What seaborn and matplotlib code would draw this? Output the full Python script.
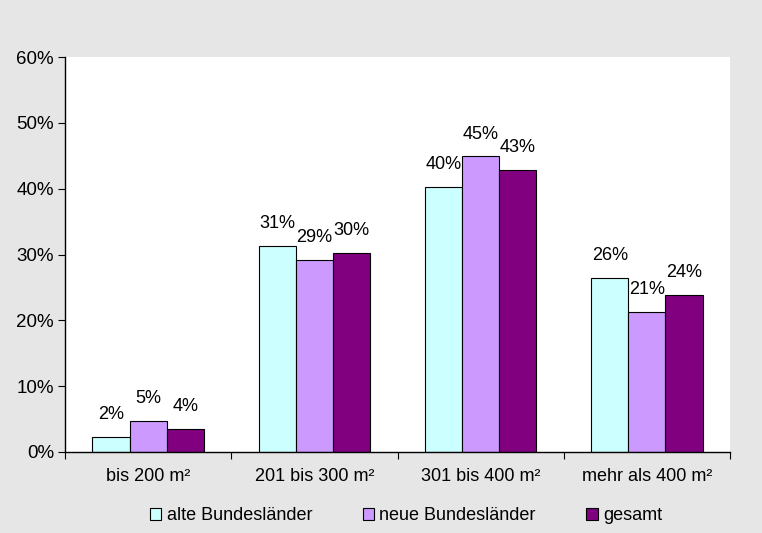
import pandas as pd
import matplotlib.pyplot as plt
import seaborn as sns

# Data
categories = ["bis 200 m²", "201 bis 300 m²", "301 bis 400 m²", "mehr als 400 m²"]
series = ["alte Bundesländer", "neue Bundesländer", "gesamt"]
alte = [2.3, 31.3, 40.3, 26.4]
neue = [4.7, 29.2, 44.9, 21.3]
gesamt = [3.5, 30.2, 42.8, 23.8]
colors = ["#CCFFFF", "#CC99FF", "#800080"]
yticks = [0, 10, 20, 30, 40, 50, 60]

df = pd.DataFrame({
    "Kategorie": categories * 3,
    "Serie": [series[0]] * 4 + [series[1]] * 4 + [series[2]] * 4,
    "Wert": alte + neue + gesamt,
})

sns.set_style("white")
plt.rcParams['font.family'] = ['Liberation Sans', 'DejaVu Sans']
plt.rcParams['text.color'] = 'black'
plt.rcParams['xtick.color'] = 'black'
plt.rcParams['ytick.color'] = 'black'

fig = plt.figure(figsize=(7.62, 5.33), dpi=100, facecolor="#e6e6e6")
ax = fig.add_axes([65 / 762, 1 - 452 / 533, (730 - 65) / 762, (452 - 57) / 533])
ax.set_facecolor("white")

sns.barplot(data=df, x="Kategorie", y="Wert", hue="Serie", palette=colors,
            saturation=1, width=0.67, edgecolor="black", linewidth=0.8,
            ax=ax, legend=True)

for cont in ax.containers:
    ax.bar_label(cont, labels=[f"{round(b.get_height()):d}%" for b in cont],
                 padding=10, fontsize=13)

ax.set_ylim(0, 60)
ax.set_xlim(-0.5, 3.5)
ax.set_yticks(yticks)
ax.set_yticklabels([f"{t}%" for t in yticks], fontsize=13.5)
ax.set_xlabel("")
ax.set_ylabel("")
ax.tick_params(axis="x", labelsize=13, length=0, pad=11.5)
ax.tick_params(axis="y", length=5, width=0.8, left=True, pad=3)

# category boundary ticks on the x axis
ax.set_xticks([-0.5, 0.5, 1.5, 2.5, 3.5], minor=True)
ax.tick_params(axis="x", which="minor", length=5, width=0.8, bottom=True)

for side in ["top", "right"]:
    ax.spines[side].set_visible(False)
for side in ["left", "bottom"]:
    ax.spines[side].set_color("black")
    ax.spines[side].set_linewidth(1.0)

handles, labels = ax.get_legend_handles_labels()
fig.legend(handles, labels, loc="center", bbox_to_anchor=(406 / 762, 1 - 516 / 533),
           ncol=3, frameon=False, fontsize=13, handlelength=0.65,
           handleheight=0.65, handletextpad=0.28, columnspacing=2.8)
ax.get_legend().remove()

fig.savefig("out.png", dpi=100, facecolor=fig.get_facecolor())
